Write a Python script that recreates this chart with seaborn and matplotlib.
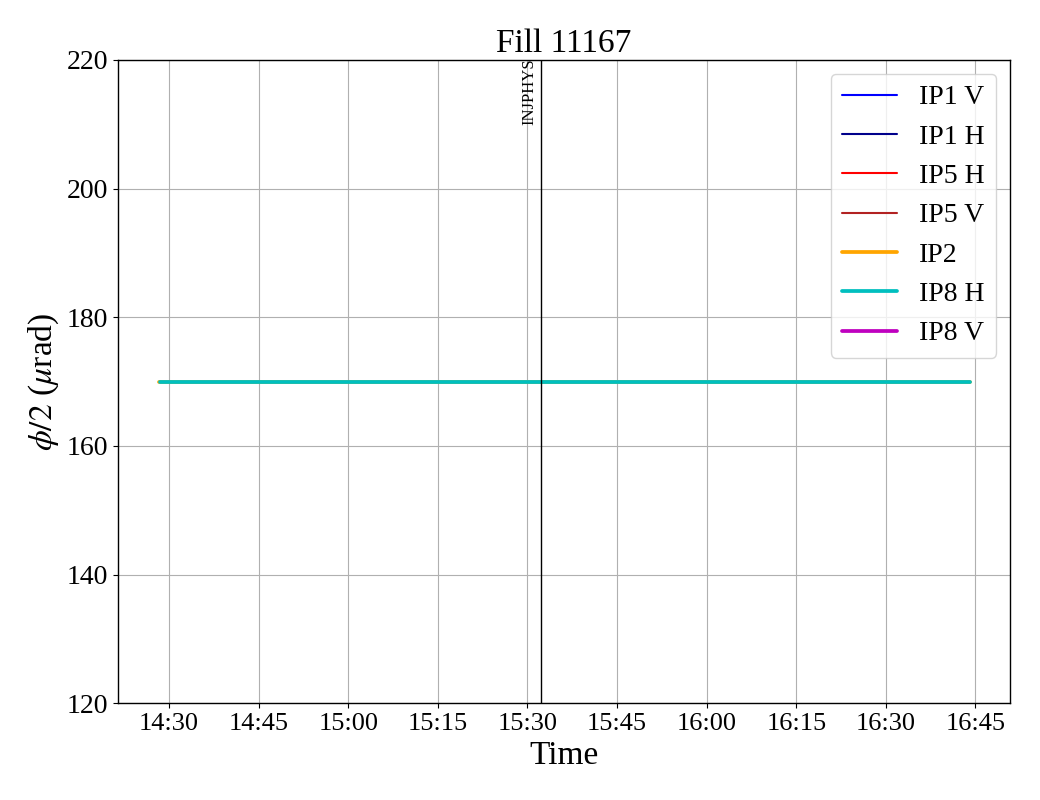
import matplotlib
matplotlib.use("Agg")
import matplotlib.pyplot as plt
import matplotlib.dates as mdates
import seaborn as sns
import pandas as pd
import numpy as np

# ---- data ----
title = "Fill 11167"
series_names = ["IP1 V", "IP1 H", "IP5 H", "IP5 V", "IP2", "IP8 H", "IP8 V"]
series_colors = ["blue", "darkblue", "red", "firebrick", "orange", "c", "m"]
series_lw = [1.5, 1.5, 1.5, 1.5, 2.7, 2.7, 2.7]
series_times = {
    "IP1 V": [],
    "IP1 H": [],
    "IP5 H": [],
    "IP5 V": [],
    "IP2": ["2025-09-10 14:28:15", "2025-09-10 16:44:00"],
    "IP8 H": ["2025-09-10 14:28:30", "2025-09-10 16:44:00"],
    "IP8 V": [],
}
series_values = {
    "IP1 V": [],
    "IP1 H": [],
    "IP5 H": [],
    "IP5 V": [],
    "IP2": [170, 170],
    "IP8 H": [170, 170],
    "IP8 V": [],
}
mode_time = "2025-09-10 15:32:20"
mode_label = "INJPHYS"
y_limits = (120, 220)

# ---- style ----
sns.set_style("ticks")
plt.rcParams["font.family"] = ["Liberation Serif", "DejaVu Serif"]
plt.rcParams["mathtext.fontset"] = "stix"
plt.rcParams["text.color"] = "black"
plt.rcParams["axes.labelcolor"] = "black"
plt.rcParams["xtick.color"] = "black"
plt.rcParams["ytick.color"] = "black"

fig = plt.figure(figsize=(10.4, 8), dpi=100)
ax = fig.add_axes([0.1135, 0.121, 0.8577, 0.804])

for name, col, lw in zip(series_names, series_colors, series_lw):
    t = pd.to_datetime(pd.Series(series_times[name], dtype="object"))
    df = pd.DataFrame({"time": t, "val": pd.Series(series_values[name], dtype=float)})
    if len(df) == 0:
        ax.plot([], [], color=col, linewidth=lw, label=name)
    else:
        sns.lineplot(data=df, x="time", y="val", ax=ax, color=col, linewidth=lw,
                     label=name, errorbar=None)

ax.axvline(pd.Timestamp(mode_time), color="black", linewidth=1)
ax.text(pd.Timestamp(mode_time) - pd.Timedelta(seconds=40), y_limits[1] + 0.3, mode_label,
        rotation=90, ha="right", va="top", fontsize=12, color="black")

ax.set_ylim(*y_limits)
ax.xaxis.set_major_locator(mdates.MinuteLocator(byminute=[0, 15, 30, 45]))
ax.xaxis.set_major_formatter(mdates.DateFormatter("%H:%M"))
ax.grid(True, color="#b0b0b0", linewidth=0.8)
ax.set_axisbelow(True)
for s in ax.spines.values():
    s.set_color("black")
    s.set_linewidth(1)
ax.tick_params(axis="both", labelsize=20, colors="black", length=3.5, width=0.8)
ax.tick_params(axis="x", labelsize=19)
ax.set_xlabel("Time", fontsize=24, color="black")
ax.set_ylabel(r"$\phi/2$ ($\mu$rad)", fontsize=24, color="black")
ax.set_title(title, fontsize=24, pad=6, color="black")
ax.legend(loc="upper right", fontsize=20, frameon=True)

fig.savefig("out.png", dpi=100)
